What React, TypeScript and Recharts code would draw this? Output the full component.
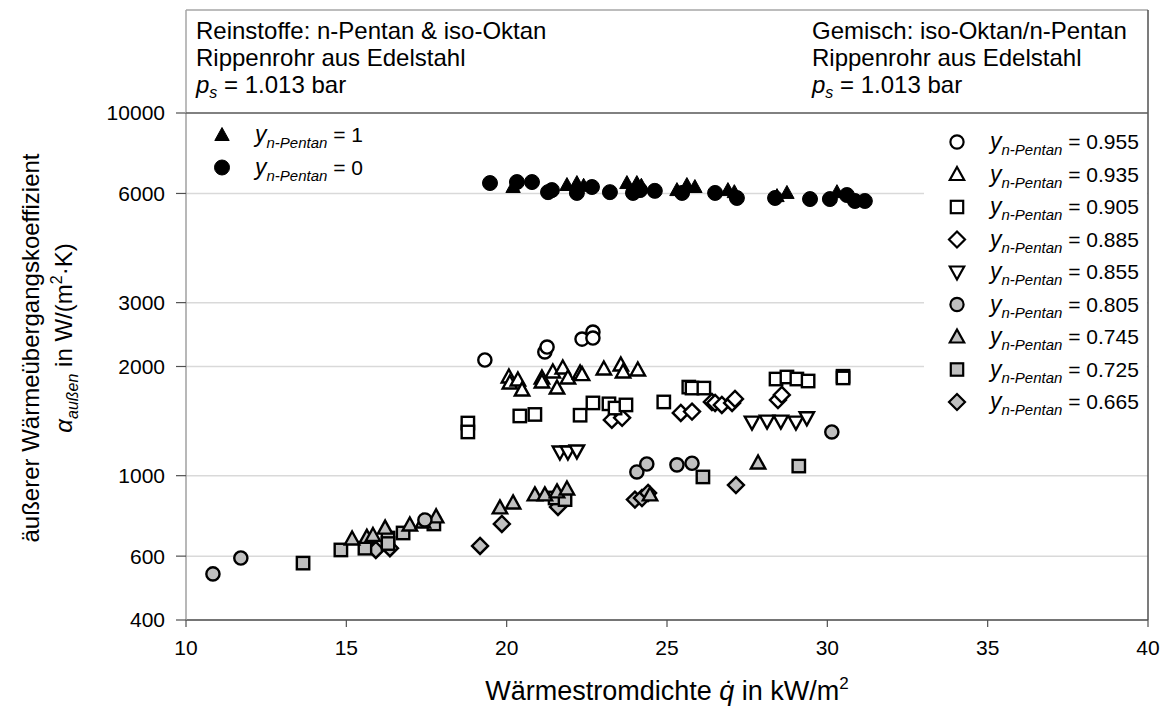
import React from 'react';
import { ScatterChart, Scatter, XAxis, YAxis, CartesianGrid } from 'recharts';

type P = [number, number];

// axis ticks
const xTicks = [10, 15, 20, 25, 30, 35, 40];
const yTicks = [400, 600, 1000, 2000, 3000, 6000, 10000];

// pure substances
const pure1: P[] = [
  [20.2, 6250], [21.88, 6330], [22.19, 6410], [22.4, 6300], [23.75, 6410], [24.06, 6410],
  [24.2, 6300], [25.31, 6130], [25.62, 6330], [25.87, 6250], [26.9, 6130], [27.1, 6050],
  [28.43, 5900], [28.74, 6020], [30.3, 6050],
];
const pure0: P[] = [
  [19.48, 6410], [20.32, 6450], [20.79, 6450], [21.29, 6050], [21.41, 6130], [22.19, 6020],
  [22.66, 6250], [23.22, 6050], [23.94, 6020], [24.16, 6130], [24.62, 6100], [25.47, 6020],
  [26.5, 6020], [27.18, 5830], [28.37, 5830], [29.46, 5790], [30.08, 5790], [30.61, 5940],
  [30.86, 5720], [31.17, 5720],
];

// mixtures
const mix0955: P[] = [
  [19.32, 2084], [21.19, 2194], [21.26, 2263], [22.35, 2380], [22.69, 2489], [22.69, 2396],
];
const mix0935: P[] = [
  [20.07, 1871], [20.1, 1801], [20.35, 1836], [20.48, 1722], [21.1, 1859], [21.1, 1813],
  [21.44, 1931], [21.75, 1981], [21.57, 1744], [21.91, 1859], [22.29, 1919], [22.35, 1900],
  [23.03, 1968], [23.56, 2019], [23.63, 1931], [24.09, 1956],
];
const mix0905: P[] = [
  [18.79, 1397], [18.79, 1320], [20.41, 1461], [20.88, 1475], [22.29, 1468], [22.69, 1587],
  [23.19, 1578], [23.38, 1536], [23.72, 1567], [24.9, 1597], [25.68, 1755], [25.78, 1744],
  [26.15, 1744], [28.4, 1847], [28.74, 1871], [29.05, 1847], [29.4, 1824], [30.49, 1880],
  [30.49, 1860],
];
const mix0885: P[] = [
  [23.28, 1425], [23.6, 1444], [25.43, 1489], [25.78, 1502], [26.4, 1597], [26.5, 1587],
  [26.71, 1567], [27.03, 1587], [27.12, 1628], [28.46, 1617], [28.58, 1670],
];
const mix0855: P[] = [
  [21.66, 1162], [21.91, 1162], [22.19, 1170], [27.65, 1405], [28.12, 1414], [28.55, 1414],
  [29.02, 1405], [29.36, 1444],
];
const mix0805: P[] = [
  [10.84, 536], [11.71, 593], [17.45, 755], [24.06, 1024], [24.37, 1077], [25.31, 1071],
  [25.78, 1082], [30.14, 1320],
];
const mix0745: P[] = [
  [15.18, 669], [15.64, 676], [15.83, 684], [16.21, 717], [16.98, 731], [17.39, 745],
  [17.8, 770], [19.79, 815], [20.2, 841], [20.88, 885], [21.19, 885], [21.57, 902],
  [21.88, 919], [24.47, 885], [27.84, 1084],
];
const mix0725: P[] = [
  [13.65, 574], [14.83, 624], [15.58, 631], [16.3, 673], [16.3, 650], [16.77, 695],
  [17.73, 736], [21.51, 868], [21.82, 859], [26.12, 992], [29.11, 1063],
];
const mix0665: P[] = [
  [15.92, 624], [16.36, 631], [19.17, 640], [19.85, 736], [21.6, 820], [24.0, 859],
  [24.22, 868], [24.41, 896], [27.15, 942],
];

const pureLabels = ['1', '0'];
const mixLabels = ['0.955', '0.935', '0.905', '0.885', '0.855', '0.805', '0.745', '0.725', '0.665'];

type Kind = 'circle' | 'triangle' | 'triangleDown' | 'square' | 'diamond';
interface Style { kind: Kind; fill: string; stroke: string; sw: number }

const BLACK_TRI: Style = { kind: 'triangle', fill: '#000', stroke: '#000', sw: 1 };
const BLACK_CIR: Style = { kind: 'circle', fill: '#000', stroke: '#000', sw: 1 };
const GRAY = '#c0c0c0';

const pureSeries = [
  { label: pureLabels[0], data: pure1, style: BLACK_TRI },
  { label: pureLabels[1], data: pure0, style: BLACK_CIR },
];
const mixSeries = [
  { label: mixLabels[0], data: mix0955, style: { kind: 'circle', fill: '#fff', stroke: '#000', sw: 2.4 } as Style },
  { label: mixLabels[1], data: mix0935, style: { kind: 'triangle', fill: '#fff', stroke: '#000', sw: 2.4 } as Style },
  { label: mixLabels[2], data: mix0905, style: { kind: 'square', fill: '#fff', stroke: '#000', sw: 2.4 } as Style },
  { label: mixLabels[3], data: mix0885, style: { kind: 'diamond', fill: '#fff', stroke: '#000', sw: 2.4 } as Style },
  { label: mixLabels[4], data: mix0855, style: { kind: 'triangleDown', fill: '#fff', stroke: '#000', sw: 2.4 } as Style },
  { label: mixLabels[5], data: mix0805, style: { kind: 'circle', fill: GRAY, stroke: '#000', sw: 2.4 } as Style },
  { label: mixLabels[6], data: mix0745, style: { kind: 'triangle', fill: GRAY, stroke: '#000', sw: 2.4 } as Style },
  { label: mixLabels[7], data: mix0725, style: { kind: 'square', fill: GRAY, stroke: '#000', sw: 2.4 } as Style },
  { label: mixLabels[8], data: mix0665, style: { kind: 'diamond', fill: GRAY, stroke: '#000', sw: 2.4 } as Style },
];

const FONT = '"Liberation Sans", Arial, sans-serif';

function Marker({ cx, cy, s }: { cx: number; cy: number; s: Style }) {
  if (cx == null || cy == null || isNaN(cx) || isNaN(cy)) return null;
  const common = { fill: s.fill, stroke: s.stroke, strokeWidth: s.sw, strokeLinejoin: 'miter' as const };
  switch (s.kind) {
    case 'circle':
      return <circle cx={cx} cy={cy} r={s.fill === '#000' ? 7.5 : 6.6} {...common} />;
    case 'triangle':
      return (
        <polygon
          points={`${cx},${cy - 7.5} ${cx + 7.2},${cy + 5.5} ${cx - 7.2},${cy + 5.5}`}
          {...common}
        />
      );
    case 'triangleDown':
      return (
        <polygon
          points={`${cx},${cy + 7.5} ${cx + 7.2},${cy - 5.5} ${cx - 7.2},${cy - 5.5}`}
          {...common}
        />
      );
    case 'square':
      return <rect x={cx - 6.2} y={cy - 6.2} width={12.4} height={12.4} {...common} />;
    case 'diamond':
      return (
        <polygon points={`${cx},${cy - 8} ${cx + 8},${cy} ${cx},${cy + 8} ${cx - 8},${cy}`} {...common} />
      );
  }
  return null;
}

const toObj = (arr: P[]) => arr.map(([x, y]) => ({ x, y }));

function LegendLabel({ x, y, value }: { x: number; y: number; value: string }) {
  return (
    <text x={x} y={y} fontFamily={FONT} fontSize={21} fill="#000">
      <tspan fontStyle="italic" fontSize={23}>y</tspan>
      <tspan fontStyle="italic" fontSize={15} dy={6}>n-Pentan</tspan>
      <tspan dy={-6}>{' = ' + value}</tspan>
    </text>
  );
}

function Overlay() {
  const headerLines = (x: number, first: string) => (
    <g fontFamily={FONT} fontSize={24} fill="#000">
      <text x={x} y={39}>{first}</text>
      <text x={x} y={66}>Rippenrohr aus Edelstahl</text>
      <text x={x} y={93}>
        <tspan fontStyle="italic">p</tspan>
        <tspan fontSize={16} fontStyle="italic" dy={5}>s</tspan>
        <tspan dy={-5}> = 1.013 bar</tspan>
      </text>
    </g>
  );
  return (
    <svg
      width={1165}
      height={708}
      style={{ position: 'absolute', left: 0, top: 0, pointerEvents: 'none' }}
    >
      {/* header box */}
      <line x1={186} y1={10} x2={1148} y2={10} stroke="#a6a6a6" strokeWidth={1.5} />
      <line x1={186} y1={10} x2={186} y2={113} stroke="#a6a6a6" strokeWidth={1.5} />
      <line x1={1148} y1={10} x2={1148} y2={620} stroke="#505050" strokeWidth={1.5} />
      <line x1={186} y1={113} x2={1148} y2={113} stroke="#606060" strokeWidth={1.5} />
      {headerLines(196, 'Reinstoffe: n-Pentan & iso-Oktan')}
      {headerLines(812, 'Gemisch: iso-Oktan/n-Pentan')}

      {/* left legend */}
      {pureSeries.map((s, i) => (
        <g key={s.label}>
          <Marker cx={222} cy={135 + i * 32.5} s={s.style} />
          <LegendLabel x={255} y={142 + i * 32.5} value={s.label} />
        </g>
      ))}

      {/* right legend */}
      <rect x={924} y={114} width={223} height={305} fill="#fff" />
      {mixSeries.map((s, i) => (
        <g key={s.label}>
          <Marker cx={957} cy={142 + i * 32.5} s={{ ...s.style, sw: 2.2 }} />
          <LegendLabel x={990} y={149 + i * 32.5} value={s.label} />
        </g>
      ))}

      {/* axis titles */}
      <text x={667} y={700} textAnchor="middle" fontFamily={FONT} fontSize={27} fill="#000">
        <tspan>Wärmestromdichte </tspan>
        <tspan fontStyle="italic">q̇</tspan>
        <tspan> in kW/m</tspan>
        <tspan fontSize={17} dy={-11}>2</tspan>
      </text>
      <g transform="rotate(-90)" fontFamily={FONT} fill="#000">
        <text x={-348} y={39} textAnchor="middle" fontSize={24}>
          äußerer Wärmeübergangskoeffizient
        </text>
        <text x={-338} y={72} textAnchor="middle" fontSize={24}>
          <tspan fontStyle="italic">α</tspan>
          <tspan fontStyle="italic" fontSize={16} dy={6}>außen</tspan>
          <tspan dy={-6}> in W/(m</tspan>
          <tspan fontSize={16} dy={-10}>2</tspan>
          <tspan dy={10}>·K)</tspan>
        </text>
      </g>
    </svg>
  );
}

export default function App() {
  return (
    <div style={{ position: 'absolute', left: 0, top: 0, width: 1165, height: 708, background: '#fff' }}>
      <ScatterChart
        width={1165}
        height={708}
        margin={{ top: 113, right: 17, bottom: 28, left: 0 }}
        style={{ fontFamily: FONT }}
      >
        <CartesianGrid horizontal vertical={false} stroke="#d9d9d9" strokeWidth={1.5} />
        <XAxis
          type="number"
          dataKey="x"
          domain={[10, 40]}
          ticks={xTicks}
          interval={0}
          height={60}
          tickSize={7}
          tickMargin={13}
          axisLine={{ stroke: '#505050', strokeWidth: 1.5 }}
          tickLine={{ stroke: '#505050', strokeWidth: 1.2 }}
          tick={{ fontSize: 21, fill: '#000', fontFamily: FONT }}
          allowDataOverflow
        />
        <YAxis
          type="number"
          dataKey="y"
          scale="log"
          domain={[400, 10000]}
          ticks={yTicks}
          interval={0}
          width={186}
          tickSize={10}
          tickMargin={11}
          axisLine={{ stroke: '#a0a0a0', strokeWidth: 1.5 }}
          tickLine={{ stroke: '#505050', strokeWidth: 1.2 }}
          tick={{ fontSize: 21, fill: '#000', fontFamily: FONT }}
          allowDataOverflow
        />
        {[...mixSeries].reverse().map((s) => (
          <Scatter
            key={s.label}
            data={toObj(s.data)}
            isAnimationActive={false}
            shape={(p: any) => <Marker cx={p.cx} cy={p.cy} s={s.style} />}
          />
        ))}
        {pureSeries.map((s) => (
          <Scatter
            key={'p' + s.label}
            data={toObj(s.data)}
            isAnimationActive={false}
            shape={(p: any) => <Marker cx={p.cx} cy={p.cy} s={s.style} />}
          />
        ))}
      </ScatterChart>
      <Overlay />
    </div>
  );
}
